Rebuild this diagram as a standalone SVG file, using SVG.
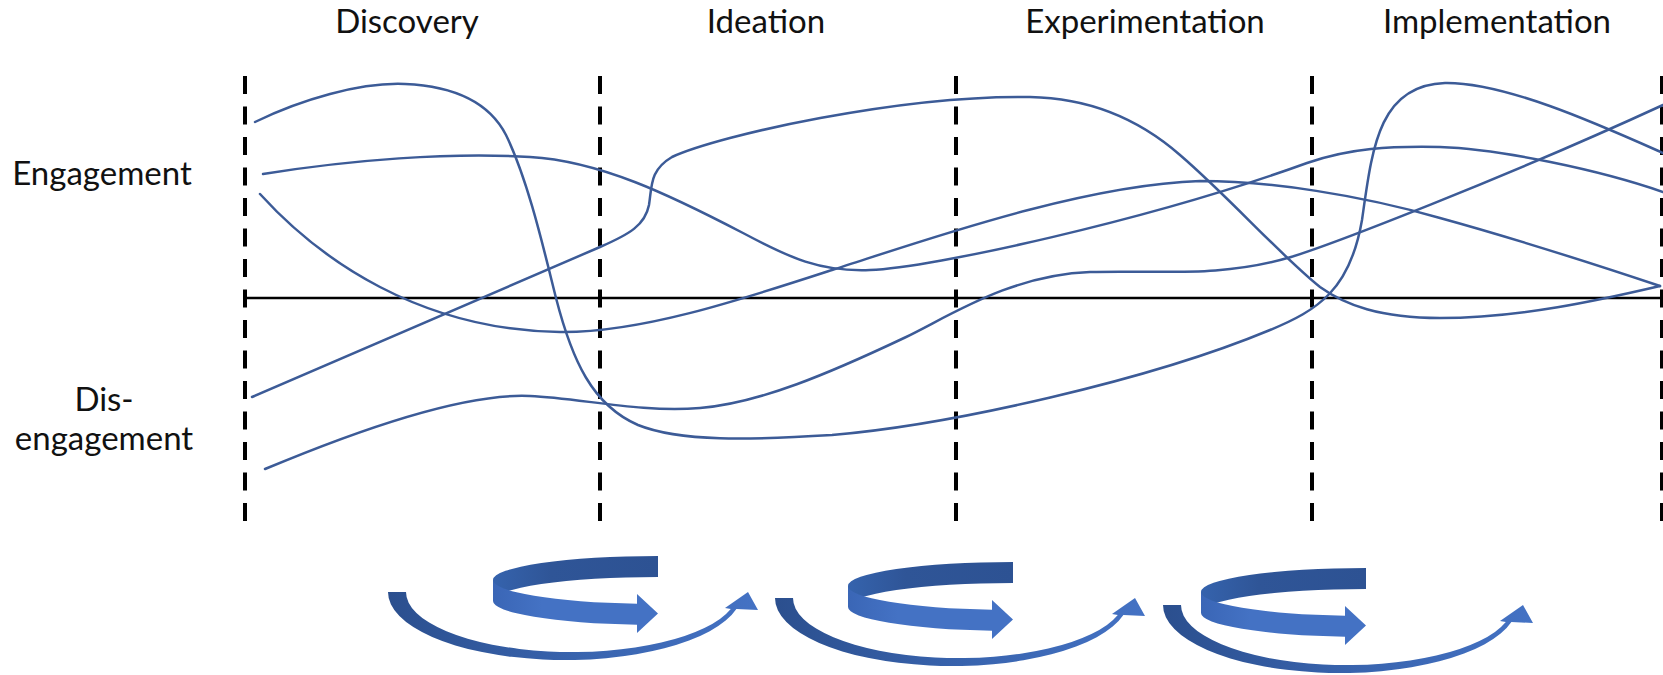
<svg xmlns="http://www.w3.org/2000/svg" width="1663" height="675" viewBox="0 0 1663 675">
  <style>
    .label { font-family: Lato, "Open Sans", "Liberation Sans", sans-serif; font-size: 33px; fill: #111; text-anchor: middle; }
    .phase { stroke: #000; stroke-width: 4; stroke-dasharray: 18 12.5; fill: none; }
    .axis { stroke: #000; stroke-width: 2.5; fill: none; }
    .trace { stroke: #3c5b97; stroke-width: 2.5; fill: none; stroke-linecap: round; }
  </style>
  <defs>
    <linearGradient id="arcFill" x1="0" y1="0" x2="1" y2="0">
      <stop offset="0" stop-color="#2b4f8e"/>
      <stop offset="0.5" stop-color="#3863ad"/>
      <stop offset="1" stop-color="#4472c4"/>
    </linearGradient>
    <linearGradient id="backFill" x1="0" y1="0" x2="1" y2="0">
      <stop offset="0" stop-color="#3563ad"/>
      <stop offset="0.35" stop-color="#2f5597"/>
      <stop offset="1" stop-color="#2d5293"/>
    </linearGradient>
    <linearGradient id="frontFill" x1="0" y1="0" x2="1" y2="0">
      <stop offset="0" stop-color="#3a66b6"/>
      <stop offset="0.3" stop-color="#4472c4"/>
      <stop offset="1" stop-color="#4472c4"/>
    </linearGradient>
    <!-- lower sweeping arc with small head, drawn for the first cycle -->
    <path id="sweep" fill="url(#arcFill)"
          d="M388,592 A177,68 0 0 0 736.4,609 L758,610 L748,592 L725,608 L730.8,609 A165.8,60 0 0 1 406,592 Z"/>
    <!-- ribbon loop, origin at the top of its flat end -->
    <g id="ribbon">
      <path fill="url(#backFill)" d="M0,0 A165,24 0 0 0 -165,24 L-165,45 A165,24 0 0 1 0,21 Z"/>
      <path fill="url(#frontFill)" d="M-165,24 A165,24 0 0 0 -21,47.8 L-21,38 L0,57.5 L-21,77 L-21,68.8 A165,24 0 0 1 -165,45 Z"/>
    </g>
  </defs>

  <rect width="1663" height="675" fill="#fff"/>

  <!-- phase headings -->
  <g id="phase-labels">
    <text class="label" x="407" y="33">Discovery</text>
    <text class="label" x="766" y="33">Ideation</text>
    <text class="label" x="1145" y="33">Experimentation</text>
    <text class="label" x="1497" y="33">Implementation</text>
  </g>

  <!-- vertical scale labels -->
  <g id="scale-labels">
    <text class="label" x="102" y="185">Engagement</text>
    <text class="label" x="104" y="411">Dis-</text>
    <text class="label" x="104" y="450">engagement</text>
  </g>

  <!-- phase boundaries and baseline -->
  <g id="grid">
    <line class="phase" x1="245" y1="76" x2="245" y2="527"/>
    <line class="phase" x1="600" y1="76" x2="600" y2="527"/>
    <line class="phase" x1="956" y1="76" x2="956" y2="527"/>
    <line class="phase" x1="1312" y1="76" x2="1312" y2="527"/>
    <line class="phase" x1="1662" y1="76" x2="1662" y2="527"/>
    <line class="axis" x1="245" y1="298" x2="1663" y2="298"/>
  </g>

  <!-- engagement traces -->
  <g id="traces">
    <path id="trace-a" class="trace" d="M255,122 C300,100 360,82 405,84 C450,86 488,100 506,135 C528,180 544,250 556,298 C572,360 592,405 638,425 C680,442 750,440 832,435 C950,425 1150,380 1270,330 C1318,310 1350,290 1362,220 C1372,150 1378,85 1445,83 C1505,82 1600,125 1663,153"/>
    <path id="trace-b" class="trace" d="M263,174 C350,160 450,152 530,157 C600,161 670,195 743,233 C790,258 820,272 870,270 C930,268 1150,220 1307,163 C1350,148 1390,146 1440,147 C1500,149 1600,170 1663,192"/>
    <path id="trace-c" class="trace" d="M260,194 C320,260 420,330 560,332 C640,333 740,300 832,270 C920,242 1080,185 1200,181 C1270,181 1360,195 1440,218 C1520,240 1600,266 1660,286"/>
    <path id="trace-e" class="trace" d="M252,397 L600,247 C630,234 645,225 649,205 C652,185 650,170 672,157 C720,135 900,95 1030,97 C1090,98 1140,120 1180,155 C1230,198 1280,255 1320,287 C1345,305 1380,318 1440,318 C1520,318 1600,300 1660,286"/>
    <path id="trace-f" class="trace" d="M265,469 C370,425 470,393 530,396 C580,398 640,413 700,408 C760,403 830,373 904,338 C950,316 1010,275 1090,272 C1160,270 1220,278 1291,257 C1330,245 1500,180 1663,105"/>
  </g>

  <!-- iteration cycles -->
  <g id="cycle-1">
    <use href="#sweep"/>
    <use href="#ribbon" transform="translate(658,556)"/>
  </g>
  <g id="cycle-2">
    <use href="#sweep" transform="translate(387,6)"/>
    <use href="#ribbon" transform="translate(1013,562)"/>
  </g>
  <g id="cycle-3">
    <use href="#sweep" transform="translate(775,13)"/>
    <use href="#ribbon" transform="translate(1366,568)"/>
  </g>
</svg>
